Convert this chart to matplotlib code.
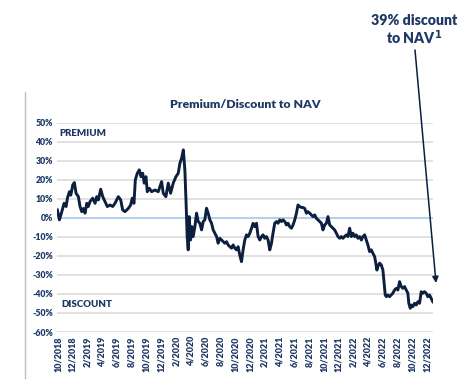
import matplotlib
matplotlib.use("Agg")
import matplotlib.pyplot as plt
from matplotlib.lines import Line2D

plt.rcParams['font.family'] = ['Lato', 'DejaVu Sans']

# months since 10/2018, premium(+)/discount(-) to NAV in %
meses = [-0.1, 0.18, 0.5, 0.81, 1.08, 1.26, 1.53, 1.72, 1.99, 2.2, 2.43, 2.74, 2.97, 3.2, 3.42,
         3.65, 3.88, 4.09, 4.32, 4.69, 5.0, 5.23, 5.45, 5.77, 6.04, 6.35, 6.66, 7.03, 7.39, 7.7,
         8.15, 8.47, 8.74, 9.05, 9.5, 9.82, 10.04, 10.27, 10.45, 10.72, 10.99, 11.22, 11.45, 11.66,
         11.89, 12.07, 12.34, 12.66, 13.11, 13.55, 14.01, 14.23, 14.59, 14.91, 15.23, 15.58, 15.95,
         16.26, 16.49, 16.72, 16.95, 17.16, 17.34, 17.47, 17.61, 17.74, 17.93, 18.11, 18.28, 18.51,
         18.74, 18.96, 19.19, 19.42, 19.64, 19.86, 20.09, 20.31, 20.54, 20.77, 20.99, 21.22, 21.45,
         21.66, 21.89, 22.12, 22.34, 22.57, 22.8, 23.01, 23.24, 23.47, 23.69, 23.92, 24.15, 24.36,
         24.59, 24.82, 25.04, 25.27, 25.5, 25.72, 25.95, 26.18, 26.39, 26.62, 26.85, 27.07, 27.3,
         27.53, 27.74, 27.97, 28.2, 28.42, 28.65, 28.88, 29.09, 29.32, 29.55, 29.77, 30.0, 30.23,
         30.45, 30.68, 30.91, 31.12, 31.35, 31.58, 31.8, 32.03, 32.26, 32.47, 32.7, 32.93, 33.15,
         33.38, 33.61, 33.82, 34.05, 34.28, 34.5, 34.73, 34.96, 35.18, 35.41, 35.64, 35.85, 36.08,
         36.31, 36.53, 36.76, 36.99, 37.2, 37.43, 37.66, 37.88, 38.11, 38.34, 38.55, 38.78, 39.01,
         39.23, 39.46, 39.69, 39.91, 40.14, 40.36, 40.58, 40.81, 41.04, 41.26, 41.49, 41.72, 41.93,
         42.16, 42.39, 42.61, 42.84, 42.97, 43.15, 43.28, 43.51, 43.74, 43.96, 44.09, 44.28, 44.42,
         44.64, 44.86, 45.09, 45.31, 45.54, 45.77, 45.99, 46.22, 46.45, 46.66, 46.89, 47.12, 47.34,
         47.47, 47.66, 47.84, 48.01, 48.24, 48.47, 48.69, 48.92, 49.15, 49.36, 49.59, 49.82, 50.04,
         50.27, 50.5, 50.72]
premio = [4.2, -1, 3.3, 7.7, 6, 10.4, 13.8, 12, 17.4, 18.6, 13, 11.2, 6, 3.3, 5,
          2.5, 7.7, 6, 8.6, 10.4, 7.7, 11.2, 9.5, 15.1, 11.2, 8.6, 6, 6.8, 6, 7.7,
          11.2, 9.5, 4.2, 3.3, 5, 6.8, 10.4, 7.7, 20, 23.5, 25.3, 21.7, 23.5, 18.3,
          21.7, 13.8, 15.6, 13.8, 14.7, 13.8, 19.1, 13, 11.2, 18.3, 13, 18.3, 21.7,
          23.5, 28.8, 31.4, 35.8, 25, 6, -9.8, -16.8, 0.7, -11.6, -4.6, -9.8, -4.6,
          2.5, -1.9, -2.8, -6.3, -1.9, -1, 5.1, 2.5, -1, -2.8, -6.3, -8, -9.8,
          -13.3, -10.7, -11.6, -12.5, -13.3, -12.5, -14.2, -15.1, -15.9, -14.2, -15.9, -16.8, -15.1,
          -19.5, -23, -16.8, -11.6, -8.9, -9.8, -8, -5.4, -2.8, -4.6, -2.8, -9.8, -11.6,
          -9.8, -8.9, -10.7, -9.8, -11.6, -16.8, -13.3, -8, -2.8, -1.9, -2.8, -1, -1.9,
          -1, -1.9, -3.7, -2.8, -4.6, -5.4, -3.7, -1, 2.5, 6.8, 6, 5.5, 5.5,
          5, 2.5, 3.3, 2.5, 1.6, 0.7, 1.6, -0.2, -1, -1.9, -2.8, -6.3, -3.7,
          -2.8, 0.7, -3.7, -4.6, -5.4, -6.3, -8, -9.8, -10.7, -9.8, -10.7, -9.8, -8.9,
          -9.8, -5.4, -9.8, -8, -9.8, -8.9, -10.7, -9.8, -11.6, -9.8, -8.9, -11.6, -14.2,
          -17.7, -16.8, -18.6, -20.3, -23, -27.4, -25.6, -23.8, -24.7, -27.4, -32.6, -40.5, -41.4,
          -40.5, -41.4, -40.5, -39.6, -37.9, -37, -37.9, -33.5, -36.1, -37, -36.1, -37.9, -39.6,
          -44.9, -47.5, -45.8, -46.7, -44.9, -45.8, -44.1, -44.9, -38.8, -39.6, -38.8, -39.6, -41.4,
          -40.5, -42.3, -44.1]

rotulos_x = ['10/2018', '12/2018', '2/2019', '4/2019', '6/2019', '8/2019', '10/2019', '12/2019',
             '2/2020', '4/2020', '6/2020', '8/2020', '10/2020', '12/2020', '2/2021', '4/2021',
             '6/2021', '8/2021', '10/2021', '12/2021', '2/2022', '4/2022', '6/2022', '8/2022',
             '10/2022', '12/2022']
pos_x = [2 * i for i in range(len(rotulos_x))]
valores_y = [50, 40, 30, 20, 10, 0, -10, -20, -30, -40, -50, -60]

azul = '#0c1f3f'
texto = '#1f3864'

fig = plt.figure(figsize=(4.66, 3.88), dpi=100)
ax = fig.add_axes([0.1223, 0.1443, 0.807, 0.539])

for v in valores_y:
    cor = '#9dc3e6' if v == 0 else '#d9d9d9'
    ax.axhline(v, color=cor, lw=1.1, zorder=1)

ax.plot(meses, premio, color=azul, lw=2.1, zorder=3, solid_joinstyle='round')

ax.set_xlim(-0.15, 50.75)
ax.set_ylim(-60, 50)
ax.set_xticks(pos_x)
ax.set_xticklabels(rotulos_x, rotation=90, fontsize=6.5, fontweight='heavy', color=texto)
ax.set_yticks(valores_y)
ax.set_yticklabels([f'{v}%' for v in valores_y], fontsize=6.3, fontweight='heavy', color=texto)
ax.tick_params(length=0, pad=3)
for s in ax.spines.values():
    s.set_visible(False)

ax.set_title('Premium/Discount to NAV', fontsize=8.8, fontweight='heavy', color=texto, pad=11)
ax.text(0.2, 44.5, 'PREMIUM', fontsize=7, fontweight='heavy', color=texto, va='center')
ax.text(0.4, -45.5, 'DISCOUNT', fontsize=7, fontweight='heavy', color=texto, va='center')

# anotação fora do gráfico
fig.text(0.888, 0.965, '39% discount\nto NAV$^{\\mathbf{1}}$', ha='center', va='top', fontsize=10.2,
         fontweight='heavy', color=texto, linespacing=1.1)
ax.annotate('', xy=(436 / 466, 1 - 283 / 388), xycoords='figure fraction',
            xytext=(415 / 466, 1 - 50 / 388), textcoords='figure fraction',
            arrowprops=dict(arrowstyle='-|>', color=azul, lw=1.1, mutation_scale=9,
                            shrinkA=0, shrinkB=0))

fig.add_artist(Line2D([25 / 466, 25 / 466], [1 - 92 / 388, 1 - 378 / 388], color='#bfbfbf', lw=1))

fig.savefig('out.png', dpi=100)
